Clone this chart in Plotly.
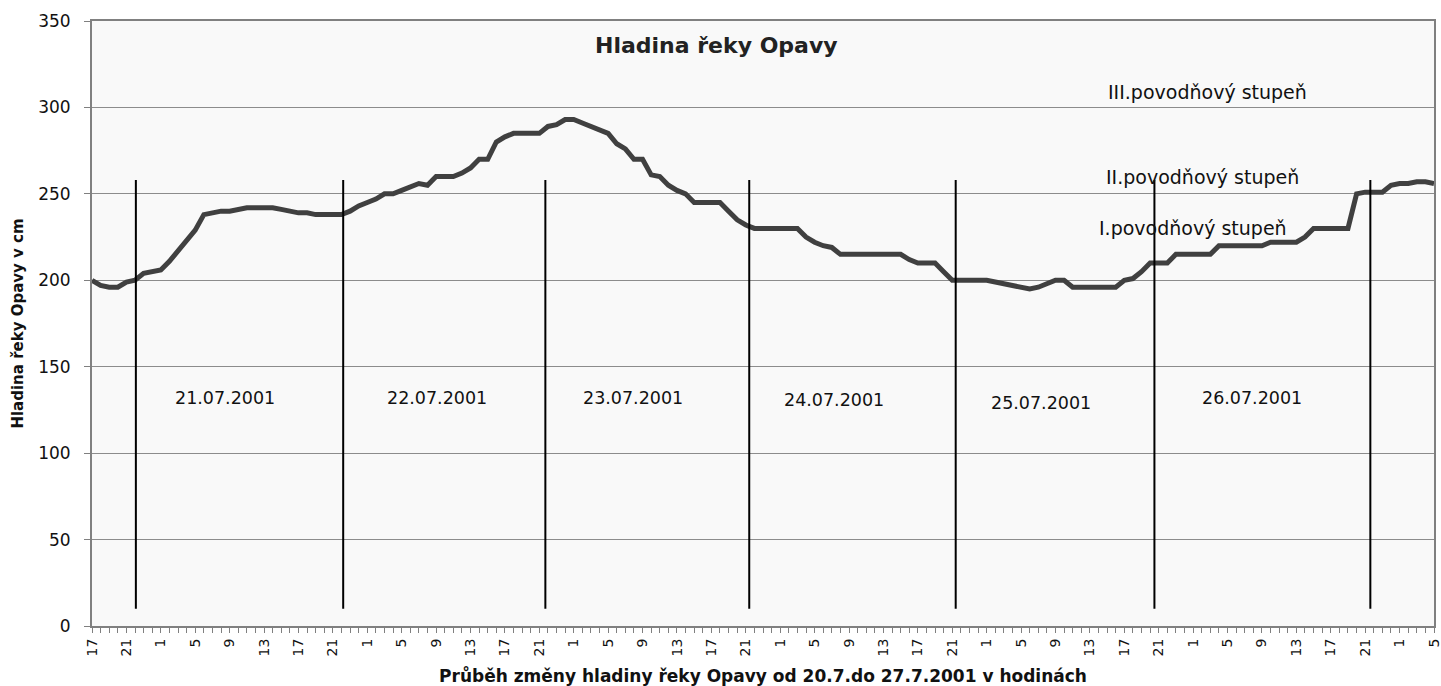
import plotly.graph_objects as go

# ---- data ----
start_hour = 17  # 20.7.2001 17:00
hours_count = 157
hour_labels = [str((start_hour + i) % 24) for i in range(0, hours_count, 4)]
level_cm = [
    200, 197, 196, 196, 199, 200, 204, 205, 206, 211, 217, 223, 229, 238, 239, 240,
    240, 241, 242, 242, 242, 242, 241, 240, 239, 239, 238, 238, 238, 238, 240, 243,
    245, 247, 250, 250, 252, 254, 256, 255, 260, 260, 260, 262, 265, 270, 270, 280,
    283, 285, 285, 285, 285, 289, 290, 293, 293, 291, 289, 287, 285, 279, 276, 270,
    270, 261, 260, 255, 252, 250, 245, 245, 245, 245, 240, 235, 232, 230, 230, 230,
    230, 230, 230, 225, 222, 220, 219, 215, 215, 215, 215, 215, 215, 215, 215, 212,
    210, 210, 210, 205, 200, 200, 200, 200, 200, 199, 198, 197, 196, 195, 196, 198,
    200, 200, 196, 196, 196, 196, 196, 196, 200, 201, 205, 210, 210, 210, 215, 215,
    215, 215, 215, 220, 220, 220, 220, 220, 220, 222, 222, 222, 222, 225, 230, 230,
    230, 230, 230, 250, 251, 251, 251, 255, 256, 256, 257, 257, 256,
]
day_boundaries = [5.1, 29.2, 52.7, 76.4, 100.4, 123.5, 148.6]
day_labels = ["21.07.2001", "22.07.2001", "23.07.2001", "24.07.2001", "25.07.2001", "26.07.2001"]
level_labels = ["III.povodňový stupeň", "II.povodňový stupeň", "I.povodňový stupeň"]

FONT = "DejaVu Sans, Liberation Sans, Arial"
x_idx = list(range(len(level_cm)))
tick_vals = list(range(0, hours_count, 4))

fig = go.Figure()
fig.add_trace(go.Scatter(
    x=x_idx, y=level_cm, mode="lines",
    line=dict(color="#404040", width=5), hoverinfo="x+y", showlegend=False,
))

shapes = []
for b in day_boundaries:
    shapes.append(dict(type="line", xref="x", yref="y", x0=b, x1=b, y0=10, y1=258,
                       line=dict(color="black", width=2)))

annotations = []
day_pos = [(15.5, 132), (40.1, 132), (62.9, 132), (86.3, 131), (110.3, 129), (134.8, 132)]
for txt, (px, py) in zip(day_labels, day_pos):
    annotations.append(dict(x=px, y=py, xref="x", yref="y", text=txt, showarrow=False,
                            font=dict(family=FONT, size=17.5, color="#111")))
lvl_pos = [(129.7, 309), (129.1, 260), (128.0, 230)]
for txt, (px, py) in zip(level_labels, lvl_pos):
    annotations.append(dict(x=px, y=py, xref="x", yref="y", text=txt, showarrow=False,
                            font=dict(family=FONT, size=19, color="#111")))
annotations.append(dict(x=(716 - 92) / (1434 - 92), y=(626 - 45) / (626 - 21),
                        xref="paper", yref="paper", text="<b>Hladina řeky Opavy</b>",
                        showarrow=False, font=dict(family=FONT, size=22, color="#222"),
                        xanchor="center", yanchor="middle"))

fig.update_layout(
    width=1441, height=686,
    margin=dict(l=92, r=7, t=21, b=60),
    paper_bgcolor="white", plot_bgcolor="#f9f9f9",
    shapes=shapes, annotations=annotations,
    font=dict(family=FONT, color="#111"),
)

fig.update_xaxes(
    range=[0, hours_count - 1], tickmode="array", tickvals=tick_vals, ticktext=hour_labels,
    tickangle=-90, ticks="outside", ticklen=5, tickcolor="#808080",
    tickfont=dict(size=14, family=FONT, color="#111"), ticklabeloverflow="allow",
    showgrid=False, zeroline=False, showline=True, linecolor="#808080", linewidth=2, mirror=True,
    automargin=False,
    minor=dict(tickmode="linear", tick0=0, dtick=1, ticks="outside", ticklen=5, tickcolor="#808080", showgrid=False),
    title=dict(text="<b>Průběh změny hladiny řeky Opavy od 20.7.do 27.7.2001 v hodinách</b>",
               font=dict(size=17, family=FONT, color="#111"), standoff=16),
)
fig.update_yaxes(
    range=[0, 350], dtick=50, ticks="outside", ticklen=6, tickcolor="#808080",
    tickfont=dict(size=17, family=FONT, color="#111"), ticklabelstandoff=10,
    showgrid=True, gridcolor="#8c8c8c", gridwidth=1, zeroline=False,
    showline=True, linecolor="#808080", linewidth=2, mirror=True,
    automargin=False,
    title=dict(text="<b>Hladina řeky Opavy v cm</b>",
               font=dict(size=15, family=FONT, color="#111"), standoff=11),
)

fig.write_html("out.html", config={"displayModeBar": False},
               post_script="document.body.style.margin='0';document.body.style.overflow='hidden';")
